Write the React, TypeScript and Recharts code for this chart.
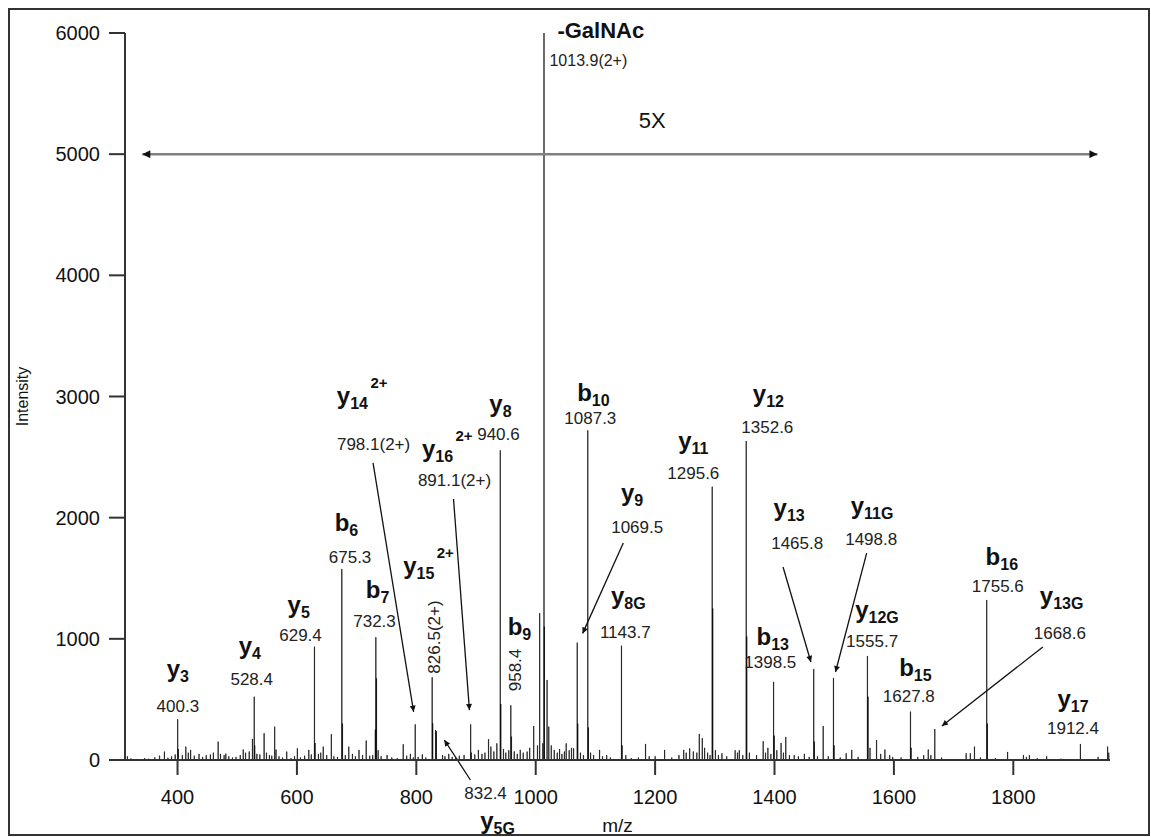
import { ComposedChart, Bar, XAxis, YAxis, ReferenceLine, ReferenceDot } from 'recharts';

const FONT = "Arial, 'Liberation Sans', Helvetica, sans-serif";

const xTicks = [400, 600, 800, 1000, 1200, 1400, 1600, 1800];
const yTicks = [0, 1000, 2000, 3000, 4000, 5000, 6000];

// assigned fragment ions [m/z, intensity]
const fragmentPeaks: [number, number][] = [
  [400.3, 336], [528.4, 522], [629.4, 935], [675.3, 1576], [732.3, 1013],
  [798.1, 294], [826.5, 682], [832.4, 247], [891.1, 294], [940.6, 2555],
  [958.4, 451], [1013.9, 6000], [1069.5, 968], [1087.3, 2720], [1143.7, 943],
  [1295.6, 2255], [1352.6, 2632], [1398.5, 644], [1465.8, 750], [1498.8, 677],
  [1555.7, 858], [1627.8, 399], [1668.6, 255], [1755.6, 1320], [1912.4, 132],
];

// isotopes, unassigned ions and background [m/z, intensity]
const minorPeaks: [number, number][] = [
  [316, 30], [322, 12], [331, 8], [345, 15], [352, 10], [362, 22], [370, 35], [378, 69], [384, 18], [390, 30], [396, 45],
  [401.3, 90], [408, 40], [414, 110], [418, 60], [422, 83], [428, 35], [436, 50], [442, 25], [448, 40], [455, 45], [460, 60],
  [468, 151], [472, 50], [478, 40], [481, 52], [486, 30], [492, 20], [498, 25],
  [505, 40], [510, 86], [514, 60], [520, 70], [525.5, 173], [529.4, 120], [533, 50], [538, 45], [545, 220], [549, 60],
  [554, 40], [558, 35], [562.8, 275], [565, 85], [570, 30], [576, 20], [583, 69], [590, 15], [596, 30], [600.7, 96],
  [606, 20], [613, 35], [620, 83], [624, 45], [630.4, 140], [636, 50], [640, 60], [644, 110], [650, 40], [657.6, 212],
  [662, 30], [668, 25], [676.3, 300], [681, 40], [687, 110], [693, 50], [698, 30],
  [704, 83], [710, 40], [716, 160], [722, 35], [727, 40], [731.3, 250], [733.3, 674], [736, 80], [741, 30], [751, 41],
  [759, 20], [768, 15], [778, 129], [784, 35], [790, 50], [795, 20],
  [803, 25], [810, 46], [816, 20], [827.5, 302], [833.6, 236], [844, 40], [848, 30], [854.5, 50], [860, 25], [866, 20],
  [872, 35], [880, 40], [892, 60], [898, 45],
  [904, 83], [910, 50], [915, 60], [921, 171], [925, 110], [930, 70], [935, 137], [941.6, 462], [946, 90], [950, 60],
  [955, 80], [959.4, 192], [964, 70], [969, 50], [974, 83], [979, 60], [985.6, 69], [990, 100], [996.7, 280],
  [1003, 120], [1006.7, 1211], [1012, 137], [1014.4, 1100], [1019, 660], [1022, 275], [1026, 120], [1031, 83], [1036, 60],
  [1040, 90], [1044, 50], [1048, 70], [1051, 137], [1056, 80], [1060, 100], [1063.5, 96], [1070.5, 300], [1075, 60],
  [1080, 40], [1088.3, 267], [1092, 60], [1097, 40],
  [1107, 83], [1112, 30], [1119, 40], [1125, 20], [1144.7, 120], [1151, 40], [1160, 15], [1172, 20], [1184, 132],
  [1190, 30], [1200, 30],
  [1216, 83], [1228, 20], [1240, 40], [1248, 83], [1252, 60], [1258, 95], [1264, 70], [1270, 60], [1274, 215], [1279, 180],
  [1283, 100], [1288, 60], [1292, 40], [1296.6, 1250],
  [1301, 80], [1306, 40], [1312, 55], [1320, 30], [1334, 80], [1338, 60], [1341, 80], [1347, 40], [1353.6, 1020],
  [1358, 60], [1370, 40], [1381, 155], [1385, 60], [1389, 100], [1394, 50], [1399.5, 200],
  [1404, 80], [1411, 140], [1415, 60], [1419, 190], [1425, 40], [1433, 40], [1440, 30], [1450, 50], [1458, 25],
  [1466.8, 150], [1472, 30], [1481.5, 280], [1490, 30], [1499.8, 120],
  [1510, 20], [1520, 55], [1529.5, 83], [1540, 25], [1556.7, 522], [1560, 100], [1571, 165], [1578, 50], [1585, 86],
  [1593, 40], [1598, 25],
  [1612, 20], [1628.8, 100], [1640, 25], [1650, 40], [1657.5, 86], [1662, 40], [1680, 20],
  [1721, 55], [1728, 55], [1735, 110], [1745, 20], [1756.6, 300], [1770, 15], [1790.5, 66],
  [1817, 40], [1822, 25], [1827, 40], [1840, 15], [1856, 30], [1880, 10], [1942, 25], [1958, 110], [1960, 60],
];

// ion names: letter, subscript, optional charge
const ionNames = [
  { ion: 'y', sub: '3' }, { ion: 'y', sub: '4' }, { ion: 'y', sub: '5' }, { ion: 'b', sub: '6' },
  { ion: 'b', sub: '7' }, { ion: 'y', sub: '14', sup: '2+' }, { ion: 'y', sub: '16', sup: '2+' },
  { ion: 'y', sub: '8' }, { ion: 'y', sub: '15', sup: '2+' }, { ion: 'b', sub: '9' }, { ion: 'b', sub: '10' },
  { ion: 'y', sub: '9' }, { ion: 'y', sub: '8G' }, { ion: 'y', sub: '11' }, { ion: 'y', sub: '12' },
  { ion: 'y', sub: '13' }, { ion: 'y', sub: '11G' }, { ion: 'b', sub: '16' }, { ion: 'y', sub: '13G' },
  { ion: 'b', sub: '13' }, { ion: 'y', sub: '12G' }, { ion: 'b', sub: '15' }, { ion: 'y', sub: '17' },
  { ion: 'y', sub: '5G' },
];
// where each ion name sits, in chart units [m/z, intensity]
const ionNamePos: [number, number][] = [
  [400.5, 685], [521, 875], [603, 1213], [683, 1890], [735, 1337], [693, 2938], [835.5, 2501],
  [941, 2872], [804, 1535], [972.7, 1032], [1096.6, 2963], [1161.5, 2137], [1155, 1287], [1264, 2567],
  [1389.7, 2955], [1424.5, 2014], [1563.5, 2030], [1780.8, 1609], [1881, 1287], [1397, 949],
  [1571.6, 1172], [1636, 690], [1900, 437], [936, -569],
];

const massTexts = [
  '400.3', '528.4', '629.4', '675.3', '732.3', '798.1(2+)', '891.1(2+)', '940.6', '1087.3', '1069.5',
  '1143.7', '1295.6', '1352.6', '1465.8', '1498.8', '1755.6', '1668.6', '1398.5', '1555.7', '1627.8',
  '1912.4', '832.4',
];
const massTextPos: [number, number][] = [
  [400.5, 396], [524.3, 619], [606, 982], [689, 1626], [730, 1098], [728.4, 2558], [864, 2261],
  [937.6, 2641], [1091.5, 2773], [1170, 1873], [1150, 1007], [1264, 2319], [1388, 2699], [1438, 1741],
  [1562, 1774], [1774, 1386], [1878, 999], [1393, 759], [1563.5, 933], [1625, 480], [1900, 215],
  [916, -322],
];

// vertical masses
const sideTexts = ['826.5(2+)', '958.4'];
const sideTextPos: [number, number][] = [[829, 1015], [966, 743]];

// label-to-peak pointers [from m/z, from int, to m/z, to int]
const pointers: [number, number, number, number][] = [
  [727.5, 2453, 795.5, 398],
  [862.3, 2154, 889, 412],
  [1146.7, 1791, 1078.6, 1045],
  [1414.3, 1593, 1461, 809],
  [1554.4, 1708, 1502.2, 726],
  [1849.5, 933, 1680.4, 281],
  [890.7, -165, 847, 165],
];

const data = [...fragmentPeaks, ...minorPeaks]
  .sort((a, b) => a[0] - b[0])
  .map(([mz, intensity]) => ({ mz, intensity }));

const axisStroke = '#333';

export default function App() {
  return (
    <div style={{ position: 'absolute', left: 0, top: 0, width: 1151, height: 837, background: '#fff', overflow: 'hidden' }}>
      <svg width={0} height={0} style={{ position: 'absolute' }}>
        <defs>
          <marker id="head" viewBox="0 0 10 10" refX={10} refY={5} markerWidth={10} markerHeight={6}
            markerUnits="userSpaceOnUse" orient="auto">
            <path d="M0,0 L10,5 L0,10 z" fill="#111" />
          </marker>
          <marker id="bigHead" viewBox="0 0 10 10" refX={10} refY={5} markerWidth={13} markerHeight={8}
            markerUnits="userSpaceOnUse" orient="auto-start-reverse">
            <path d="M0,0 L10,5 L0,10 z" fill="#111" />
          </marker>
        </defs>
      </svg>
      <div style={{ position: 'absolute', left: 8, top: 8, width: 1142, height: 828, border: '2px solid #333', boxSizing: 'border-box' }} />
      <ComposedChart width={1151} height={837} data={data} margin={{ top: 33, right: 41, bottom: 0, left: 0 }}
        style={{ position: 'absolute', left: 0, top: 0 }}>
        <XAxis
          type="number"
          dataKey="mz"
          domain={[312, 1962]}
          ticks={xTicks}
          allowDataOverflow
          height={77}
          stroke={axisStroke}
          strokeWidth={2}
          tickSize={15}
          tickMargin={15}
          tick={{ fill: '#111', fontSize: 20, fontFamily: FONT }}
          label={{
            content: ({ viewBox }: any) => (
              <text x={viewBox.x + viewBox.width / 2} y={viewBox.y + 72} textAnchor="middle"
                fontSize={19} fontFamily={FONT} fill="#111">m/z</text>
            ),
          }}
        />
        <YAxis
          type="number"
          domain={[0, 6000]}
          ticks={yTicks}
          allowDataOverflow
          width={125}
          stroke={axisStroke}
          strokeWidth={2}
          tickSize={16}
          tickMargin={9}
          tick={{ fill: '#111', fontSize: 20, fontFamily: FONT }}
          label={{
            content: ({ viewBox }: any) => {
              const cx = viewBox.x + 28;
              const cy = viewBox.y + viewBox.height / 2;
              return (
                <text x={cx} y={cy} transform={`rotate(-90, ${cx}, ${cy})`} textAnchor="middle"
                  fontSize={16} fontFamily={FONT} fill="#111">Intensity</text>
              );
            },
          }}
        />
        <Bar dataKey="intensity" fill="#000" stroke="#000" strokeWidth={0.6} barSize={2} isAnimationActive={false} />

        <ReferenceLine
          segment={[{ x: 341, y: 5000 }, { x: 1941, y: 5000 }]}
          ifOverflow="visible"
          shape={(p: any) => (
            <line x1={p.x1} y1={p.y1} x2={p.x2} y2={p.y2} stroke="#808080" strokeWidth={2.5}
              markerStart="url(#bigHead)" markerEnd="url(#bigHead)" />
          )}
        />
        {pointers.map(([x1, y1, x2, y2], i) => (
          <ReferenceLine
            key={`ptr-${i}`}
            segment={[{ x: x1, y: y1 }, { x: x2, y: y2 }]}
            ifOverflow="visible"
            shape={(p: any) => (
              <line x1={p.x1} y1={p.y1} x2={p.x2} y2={p.y2} stroke="#111" strokeWidth={1.3} markerEnd="url(#head)" />
            )}
          />
        ))}

        {ionNames.map((n, i) => (
          <ReferenceDot
            key={`ion-${i}`}
            x={ionNamePos[i][0]}
            y={ionNamePos[i][1]}
            r={0}
            ifOverflow="visible"
            shape={(p: any) => (
              <g>
                <text x={p.cx} y={p.cy} textAnchor="middle" fontFamily={FONT} fontWeight="bold" fontSize={24} fill="#111">
                  {n.ion}
                  <tspan fontSize={16} dy={5}>{n.sub}</tspan>
                </text>
                {n.sup && (
                  <text x={p.cx + 18} y={p.cy - 16} fontFamily={FONT} fontWeight="bold" fontSize={15} fill="#111">{n.sup}</text>
                )}
              </g>
            )}
          />
        ))}

        {massTexts.map((t, i) => (
          <ReferenceDot
            key={`mass-${i}`}
            x={massTextPos[i][0]}
            y={massTextPos[i][1]}
            r={0}
            ifOverflow="visible"
            shape={(p: any) => (
              <text x={p.cx} y={p.cy} textAnchor="middle" fontFamily={FONT} fontSize={17} fill="#222">{t}</text>
            )}
          />
        ))}

        {sideTexts.map((t, i) => (
          <ReferenceDot
            key={`side-${i}`}
            x={sideTextPos[i][0]}
            y={sideTextPos[i][1]}
            r={0}
            ifOverflow="visible"
            shape={(p: any) => (
              <text x={p.cx} y={p.cy + 6} transform={`rotate(-90, ${p.cx}, ${p.cy})`} textAnchor="middle"
                fontFamily={FONT} fontSize={17} fill="#222">{t}</text>
            )}
          />
        ))}

        <ReferenceDot
          x={1036.3}
          y={5958}
          r={0}
          ifOverflow="visible"
          shape={(p: any) => (
            <text x={p.cx} y={p.cy} fontFamily={FONT} fontWeight="bold" fontSize={22} fill="#111">-GalNAc</text>
          )}
        />
        <ReferenceDot
          x={1023}
          y={5727}
          r={0}
          ifOverflow="visible"
          shape={(p: any) => (
            <text x={p.cx} y={p.cy} fontFamily={FONT} fontSize={16} fill="#222">1013.9(2+)</text>
          )}
        />
        <ReferenceDot
          x={1195}
          y={5216}
          r={0}
          ifOverflow="visible"
          shape={(p: any) => (
            <text x={p.cx} y={p.cy} textAnchor="middle" fontFamily={FONT} fontSize={22} fill="#111">5X</text>
          )}
        />
      </ComposedChart>
    </div>
  );
}
